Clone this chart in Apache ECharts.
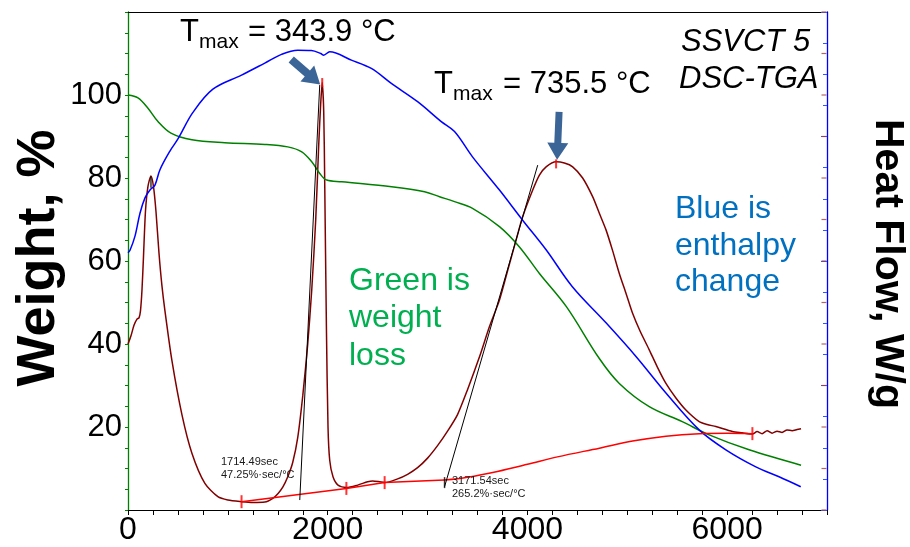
<!DOCTYPE html>
<html>
<head>
<meta charset="utf-8">
<script src="https://cdn.jsdelivr.net/npm/echarts@6/dist/echarts.min.js"></script>
<style>
  html, body { margin: 0; padding: 0; background: #fff; }
  #chart { width: 910px; height: 547px; }
</style>
</head>
<body>
<div id="chart"></div>
<script>
// SSVCT 5 DSC-TGA run: x = time (s)

// Weight, % (green)
const weightLoss = [
  [0,100],[100,99.3],[200,96.8],[300,93.6],[430,90.8],[640,89.2],[970,88.5],[1370,88.1],
  [1600,87.5],[1740,86.3],[1840,83.9],[1920,81.1],[1990,79.5],[2140,79.1],[2640,77.9],
  [2970,76.7],[3120,75.5],[3270,74.3],[3450,72.7],[3720,68.3],[3920,63.4],[4120,57.0],
  [4390,49.0],[4720,36.5],[4920,30.5],[5220,24.9],[5550,21.3],[5820,18.1],[6220,14.5],[6740,10.8]
];

// Heat flow (blue), drawn on the weight scale
const heatFlow = [
  [0,62],[20,62.6],[70,66],[120,71.5],[170,75.2],[220,77.1],[270,78.3],[320,82],[420,86.5],
  [500,89.4],[650,95.8],[850,101.4],[1137,104.8],[1370,107.7],[1537,109.8],[1700,110.8],
  [1837,110.7],[1930,110.0],[1960,109.6],[2020,110.4],[2237,108.4],[2437,106.4],[2637,102.8],
  [2900,98.4],[3137,93.6],[3270,91.2],[3450,85.1],[3720,77.1],[3950,69.9],[4187,62.7],
  [4450,53.8],[4787,45.1],[5087,37.0],[5387,28.2],[5720,19.3],[5987,14.5],[6287,10.4],
  [6520,8.0],[6737,5.6]
];

// Derivative weight signal (maroon)
const derivative = [
  [0,40],[30,42],[60,44.5],[90,46],[110,46.3],[125,48],[140,53],[155,61],[175,72],[200,78],
  [230,80.5],[255,78],[280,72],[310,62],[340,54],[370,48],[440,36],[540,23],[640,13.7],
  [770,6.4],[900,3.2],[1000,2.4],[1137,2.0],[1250,1.8],[1370,1.9],[1450,2.8],[1503,4.0],
  [1550,5.5],[1600,8.0],[1650,11.5],[1700,17.5],[1750,27.5],[1800,40],[1840,53],[1880,70],
  [1910,88],[1930,98],[1945,103],[1960,96],[1970,79],[1987,44],[2003,20],[2020,12],[2053,8],
  [2103,6],[2187,5.4],[2300,6.0],[2400,6.8],[2450,7.0],[2520,6.8],[2570,6.6],[2700,7.5],
  [2800,8.6],[2900,10.2],[3000,12.5],[3100,15.5],[3200,19],[3300,23],[3400,29],[3520,36.9],
  [3620,44.2],[3720,50.6],[3800,57.5],[3887,65.1],[3953,70.7],[4053,77.1],[4120,80.7],
  [4187,82.7],[4287,83.9],[4370,83.6],[4453,82.7],[4553,80.0],[4653,75.5],[4720,71.5],
  [4787,67.5],[4853,62.5],[4920,57.0],[4990,52.0],[5053,47.4],[5130,43.0],[5220,38.6],
  [5300,34.5],[5387,30.5],[5487,27],[5587,24.1],[5720,21.3],[5800,20.6],[5887,20.1],
  [6053,18.9],[6150,18.6],[6253,18.3],[6300,18.9],[6350,18.4],[6400,19.1],[6450,18.5],
  [6500,19.0],[6550,18.7],[6600,19.3],[6650,19.1],[6700,19.4],[6740,19.6]
];

// Integration baseline (red) and its end markers
const baselineStraight = [[1137,2.0],[2187,5.2],[2570,6.6],[3170,7.2]];
const baselineCurve = [
  [3170,7.2],[3400,7.9],[3700,9.3],[4000,11.0],[4300,12.8],[4720,14.9],[5053,16.6],
  [5387,17.8],[5720,18.4],[6000,18.5],[6253,18.4]
];
const baselineMarks = [[1137,2.0],[2187,5.2],[2570,6.6],[6253,18.4]];
const peakMarks = [[1945,103],[4287,83.4]];

// Onset tangents (black)
const tangentLow = [[1720,2.4],[1920,102.4]];
const tangentHigh = [[3170,5.6],[4103,83.1]];
const cursorMarks = [[3170,6.6],[230,79]];

// Peak annotations
const peaks = [
  { time: 1945, value: 103, tmax: '343.9' },
  { time: 4287, value: 83.9, tmax: '735.5' }
];

// Axis ticks
const xTickStep = 250, xLabelStep = 2000, xMax = 7000;
const yTickStep = 5, yLabelStep = 20, yMax = 120;
const heatAxisMajors = 4, heatAxisMinor = 4;      // right-hand heat flow scale
const derivTickLevels = [0,1,2,3,4,5,6,7,8,9,10,11,12].map(k => k / 3); // secondary scale ticks

const FONT = "'Liberation Sans', Arial, sans-serif";
const ARROW = '#3B6597';

const chart = echarts.init(document.getElementById('chart'), null, { renderer: 'canvas' });

function lineSeries(name, data, color, width, z, smooth) {
  return {
    name, type: 'line', data, xAxisIndex: 0, yAxisIndex: 0,
    showSymbol: false, symbol: 'none', smooth: smooth === undefined ? 0.35 : smooth,
    lineStyle: { color, width }, z: z || 2, animation: false, silent: true
  };
}
function marks(name, data, color, size, yAxisIndex, offset) {
  return {
    name, type: 'scatter', data, xAxisIndex: 0, yAxisIndex: yAxisIndex || 0,
    symbol: 'rect', symbolSize: size, symbolOffset: offset || [0, 0],
    itemStyle: { color }, z: 6, animation: false, silent: true, clip: false
  };
}

const option = {
  backgroundColor: '#fff',
  animation: false,
  grid: { left: 128, right: 83, top: 12, bottom: 37, containLabel: false },
  xAxis: [
    {
      type: 'value', min: 0, max: xMax, interval: xTickStep, position: 'bottom',
      axisLine: { onZero: false, lineStyle: { color: '#000', width: 1.2 } },
      axisTick: { show: true, inside: false, length: 5, lineStyle: { color: '#000', width: 1 } },
      axisLabel: {
        margin: 4, fontSize: 32, fontFamily: FONT, color: '#000',
        formatter: v => (v % xLabelStep === 0 ? String(v) : '')
      },
      splitLine: { show: false }
    },
    {
      type: 'value', min: 0, max: xMax, position: 'top',
      axisLine: { onZero: false, lineStyle: { color: '#000', width: 1.2 } },
      axisTick: { show: false }, axisLabel: { show: false }, splitLine: { show: false }
    }
  ],
  yAxis: [
    {
      type: 'value', min: 0, max: yMax, interval: yTickStep, position: 'left',
      axisLine: { show: true, onZero: false, lineStyle: { color: '#008000', width: 1.3 } },
      axisTick: { show: true, inside: false, length: 3, lineStyle: { color: '#008000', width: 1 } },
      axisLabel: {
        margin: 6, fontSize: 31, fontFamily: FONT, color: '#000',
        formatter: v => (v % yLabelStep === 0 && v > 0 && v < yMax ? String(v) : '')
      },
      splitLine: { show: false }
    },
    {
      type: 'value', min: 0, max: heatAxisMajors, interval: 1, position: 'right',
      axisLine: { show: true, onZero: false, lineStyle: { color: '#0000FF', width: 1.3 } },
      axisTick: { show: true, inside: true, length: 6, lineStyle: { color: '#3355FF', width: 1 } },
      minorTick: { show: true, splitNumber: heatAxisMinor, length: 4, lineStyle: { color: '#3355FF', width: 1 } },
      axisLabel: { show: false }, splitLine: { show: false }
    }
  ],
  series: [
    lineSeries('Weight', weightLoss, '#008000', 1.5, 3),
    lineSeries('Heat flow', heatFlow, '#0000FF', 1.5, 3),
    lineSeries('Derivative', derivative, '#800000', 1.5, 2, 0.25),
    lineSeries('Baseline', baselineStraight, '#FF0000', 1.5, 4, false),
    lineSeries('Baseline curve', baselineCurve, '#FF0000', 1.5, 4),
    lineSeries('Tangent 1', tangentLow, '#000', 1, 5, false),
    lineSeries('Tangent 2', tangentHigh, '#000', 1, 5, false),
    marks('Baseline marks', baselineMarks, '#FF0000', [2, 13]),
    marks('Peak marks', peakMarks, '#FF0000', [2, 9]),
    marks('Cursor marks', cursorMarks, '#000', [1.5, 11]),
    marks('Secondary ticks', derivTickLevels.map(v => [xMax, v]), '#A04040', [5, 1.2], 1, [-3, 0])
  ]
};
chart.setOption(option);

// Text helper: places a text by its alphabetic baseline
function txt(x, base, text, size, color, extra) {
  const style = Object.assign({
    text, fontSize: size, fontFamily: FONT, fill: color, align: 'left', verticalAlign: 'middle'
  }, extra || {});
  return { type: 'text', x, y: base - 0.35 * size, style, z: 20, silent: true };
}

function arrow(tip, tail, shaft, headW, headL) {
  const dx = tip[0] - tail[0], dy = tip[1] - tail[1];
  const len = Math.hypot(dx, dy);
  const ux = dx / len, uy = dy / len, nx = -uy, ny = ux;
  const bx = tip[0] - ux * headL, by = tip[1] - uy * headL;
  const pts = [
    [tail[0] + nx * shaft / 2, tail[1] + ny * shaft / 2],
    [bx + nx * shaft / 2, by + ny * shaft / 2],
    [bx + nx * headW / 2, by + ny * headW / 2],
    tip,
    [bx - nx * headW / 2, by - ny * headW / 2],
    [bx - nx * shaft / 2, by - ny * shaft / 2],
    [tail[0] - nx * shaft / 2, tail[1] - ny * shaft / 2]
  ];
  return { type: 'polygon', shape: { points: pts }, style: { fill: ARROW }, z: 15, silent: true };
}

const p1 = chart.convertToPixel({ xAxisIndex: 0, yAxisIndex: 0 }, [peaks[0].time, peaks[0].value]);
const p2 = chart.convertToPixel({ xAxisIndex: 0, yAxisIndex: 0 }, [peaks[1].time, peaks[1].value]);

const graphics = [
  // Tmax labels
  txt(180, 43.3, 'T', 31, '#000'),
  txt(199, 49.3, 'max', 21, '#000'),
  txt(248, 43.3, '= ' + peaks[0].tmax + ' °C', 31, '#000'),
  txt(434, 95, 'T', 31, '#000'),
  txt(453, 101.7, 'max', 21, '#000'),
  txt(503, 95, '= ' + peaks[1].tmax + ' °C', 31, '#000'),
  // Arrows to the peaks
  arrow([p1[0] - 2, p1[1] + 2], [p1[0] - 31, p1[1] - 23], 8, 21, 17),
  arrow([p2[0] + 1, p2[1] - 2], [p2[0] + 3, p2[1] - 50], 7, 21, 17),
  // Sample id
  txt(681, 53, 'SSVCT 5', 31, '#000', { fontStyle: 'italic' }),
  txt(679, 90, 'DSC-TGA', 31, '#000', { fontStyle: 'italic' }),
  // Notes
  txt(675, 220, 'Blue is', 32, '#0070C0'),
  txt(675, 257, 'enthalpy', 32, '#0070C0'),
  txt(675, 293, 'change', 32, '#0070C0'),
  txt(349, 292, 'Green is', 32, '#00B050'),
  txt(349, 329, 'weight', 32, '#00B050'),
  txt(349, 367, 'loss', 32, '#00B050'),
  // Onset readouts
  txt(221, 466, '1714.49sec', 11, '#1a1a1a'),
  txt(221, 479, '47.25%·sec/°C', 11, '#1a1a1a'),
  txt(452, 485, '3171.54sec', 11, '#1a1a1a'),
  txt(452, 498, '265.2%·sec/°C', 11, '#1a1a1a'),
  // Axis titles
  {
    type: 'text', x: 39, y: 258, rotation: Math.PI / 2, z: 20, silent: true,
    style: { text: 'Weight, %', fontSize: 54, fontWeight: 'bold', fontFamily: FONT, fill: '#000', align: 'center', verticalAlign: 'middle' }
  },
  {
    type: 'text', x: 887, y: 264, rotation: -Math.PI / 2, z: 20, silent: true,
    style: { text: 'Heat Flow, W/g', fontSize: 41, fontWeight: 'bold', fontFamily: FONT, fill: '#000', align: 'center', verticalAlign: 'middle' }
  }
];
chart.setOption({ graphic: graphics });
</script>
</body>
</html>
